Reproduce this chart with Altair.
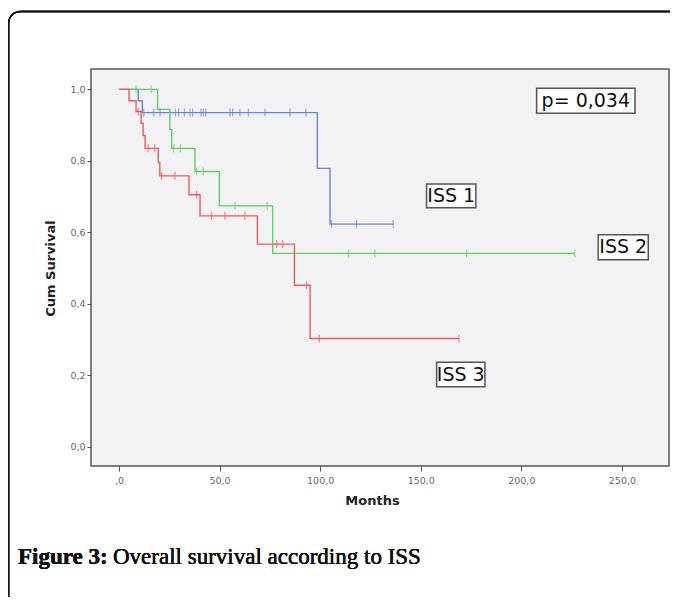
import altair as alt
import pandas as pd

# ---- Kaplan-Meier steps (months, cumulative survival) ----
iss1_time = [0, 9.6, 11.6, 98.6, 104.9, 136.3]
iss1_surv = [1.0, 0.968, 0.935, 0.779, 0.623, 0.623]
iss1_cens = [12.3, 17.3, 20.4, 28.1, 29.7, 32.5, 35.3, 36.6, 40.8, 41.9, 43.2,
             55.2, 56.5, 60.1, 64.3, 72.6, 85.0, 92.9, 105.7, 118.1, 136.3]

iss2_time = [0, 19.2, 25.3, 26.2, 37.8, 49.9, 76.4, 226.6]
iss2_surv = [1.0, 0.944, 0.888, 0.835, 0.770, 0.674, 0.541, 0.541]
iss2_cens = [8.5, 16.0, 27.2, 30.5, 38.6, 41.9, 57.7, 73.7, 114.0, 127.2, 172.8, 226.6]

iss3_time = [0, 5.0, 8.5, 11.0, 12.0, 13.0, 19.5, 20.3, 34.8, 40.3, 68.8, 87.2, 95.0, 169.0]
iss3_surv = [1.0, 0.968, 0.938, 0.905, 0.871, 0.835, 0.795, 0.758, 0.705, 0.646,
             0.567, 0.452, 0.303, 0.303]
iss3_cens = [9.6, 14.5, 17.8, 21.2, 27.8, 38.6, 46.0, 52.7, 62.6, 78.4, 81.4, 93.3, 99.6, 169.0]

groups = ["ISS 1", "ISS 2", "ISS 3"]
colors = ["#6f84c9", "#66cc66", "#f05a5a"]

x_ticks = [0, 50, 100, 150, 200, 250]
y_ticks = [0.0, 0.2, 0.4, 0.6, 0.8, 1.0]

# annotation boxes (label text, box corners in data units)
ann_text = ["p= 0,034", "ISS 1", "ISS 2", "ISS 3"]
ann_x0 = [207.6, 152.9, 238.2, 157.9]
ann_x1 = [256.5, 177.4, 263.1, 181.9]
ann_y0 = [0.933, 0.669, 0.523, 0.168]
ann_y1 = [1.003, 0.735, 0.593, 0.236]

# ---- build tables ----
def level_at(times, survs, t):
    s = survs[0]
    for tt, ss in zip(times, survs):
        if tt <= t:
            s = ss
    return s

step_rows, cens_rows = [], []
for g, ts, ss, cs in [("ISS 1", iss1_time, iss1_surv, iss1_cens),
                      ("ISS 2", iss2_time, iss2_surv, iss2_cens),
                      ("ISS 3", iss3_time, iss3_surv, iss3_cens)]:
    for t, s in zip(ts, ss):
        step_rows.append({"group": g, "t": t, "s": s})
    for c in cs:
        cens_rows.append({"group": g, "t": c, "s": level_at(ts, ss, c)})
steps = pd.DataFrame(step_rows)
cens = pd.DataFrame(cens_rows)
ann = pd.DataFrame({"label": ann_text, "x0": ann_x0, "x1": ann_x1,
                    "y0": ann_y0, "y1": ann_y1})
ann["xc"] = (ann["x0"] + ann["x1"]) / 2
ann["yc"] = (ann["y0"] + ann["y1"]) / 2

W, H = 578, 397
xscale = alt.Scale(domain=[-13.9, 273.4], nice=False, zero=False)
yscale = alt.Scale(domain=[-0.054, 1.057], nice=False, zero=False)
cscale = alt.Scale(domain=groups, range=colors)

x_axis = alt.Axis(values=x_ticks, title="Months", grid=False, domain=False,
                  labelExpr="datum.value == 0 ? ',0' : replace(format(datum.value, '.1f'), '.', ',')",
                  tickSize=5, labelPadding=4, titleX=281, titleY=34,
                  titleBaseline="middle", titleAlign="center")
y_axis = alt.Axis(values=y_ticks, title="Cum Survival", grid=False, domain=False,
                  labelExpr="replace(format(datum.value, '.1f'), '.', ',')",
                  tickSize=4, labelPadding=2, titleX=-41, titleY=199,
                  titleAngle=270, titleBaseline="middle", titleAlign="center")

base = alt.Chart(steps)
lines = base.mark_line(interpolate="step-after", strokeWidth=1.4).encode(
    x=alt.X("t:Q", scale=xscale, axis=x_axis),
    y=alt.Y("s:Q", scale=yscale, axis=y_axis),
    color=alt.Color("group:N", scale=cscale, legend=None),
    detail="group:N",
)
ticks = alt.Chart(cens).mark_tick(orient="vertical", size=8, thickness=1.2).encode(
    x=alt.X("t:Q", scale=xscale),
    y=alt.Y("s:Q", scale=yscale),
    color=alt.Color("group:N", scale=cscale, legend=None),
)
boxes = alt.Chart(ann).mark_rect(fill="white", stroke="#555555", strokeWidth=1.5).encode(
    x=alt.X("x0:Q", scale=xscale), x2="x1:Q",
    y=alt.Y("y0:Q", scale=yscale), y2="y1:Q",
)
labels = alt.Chart(ann).mark_text(font="DejaVu Sans", fontSize=19, color="#111111",
                                  baseline="middle", align="center").encode(
    x=alt.X("xc:Q", scale=xscale),
    y=alt.Y("yc:Q", scale=yscale),
    text="label:N",
)

frame = alt.Chart(ann).mark_rect(fill="transparent", stroke="#111111", strokeWidth=1.5,
                                 cornerRadius=12).encode(
    x=alt.value(-82.5), x2=alt.value(600), y=alt.value(-57.5), y2=alt.value(600)
)
cap_bold = alt.Chart(ann).mark_text(font="Liberation Serif", fontSize=23, fontWeight="bold",
                                    align="left", baseline="alphabetic", color="#111111").encode(
    x=alt.value(-73), y=alt.value(495), text=alt.value("Figure 3:")
)
cap_text = alt.Chart(ann).mark_text(font="Liberation Serif", fontSize=23,
                                    align="left", baseline="alphabetic", color="#111111").encode(
    x=alt.value(22), y=alt.value(495), text=alt.value("Overall survival according to ISS")
)

chart = alt.layer(lines, ticks, boxes, labels, frame, cap_bold, cap_text).properties(
    width=W, height=H,
    autosize=alt.AutoSizeParams(type="none"),
    padding={"left": 83, "top": 61, "right": 1, "bottom": 131},
    background="white",
).configure_view(
    stroke="#555555", strokeWidth=1.5, fill="#f2f2f4"
).configure_axis(
    labelFont="DejaVu Sans", labelFontSize=9.5, labelColor="#666666",
    tickColor="#555555", titleFont="DejaVu Sans", titleFontSize=13,
    titleFontWeight="bold", titleColor="#222222",
)

chart.save("out.html", embed_options={"renderer": "svg", "actions": False})
